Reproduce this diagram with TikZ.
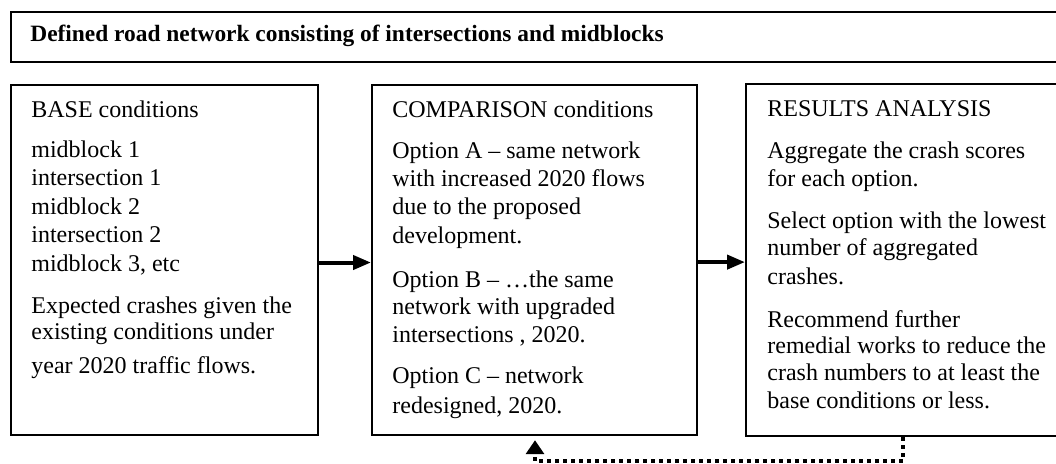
\documentclass[tikz,border=0pt]{standalone}
\usepackage{fontspec}
\setmainfont{Liberation Serif}
\usetikzlibrary{arrows.meta}
\begin{document}
\begin{tikzpicture}[x=0.5pt,y=-0.5pt,
  box/.style={draw, line width=1.1pt, inner sep=0pt, anchor=north west},
  txt/.style={anchor=base west, inner sep=0pt, font=\fontsize{12}{14}\selectfont},
  flow/.style={line width=2pt, -{Triangle[length=9pt,width=7pt]}},
  fb/.style={line width=1.7pt, dash pattern=on 2pt off 2pt, shorten >=2pt, -{Triangle[length=7pt,width=9pt]}}]
\useasboundingbox (0,0) rectangle (1056,463);
\clip (0,0) rectangle (1056,463);
% boxes
\node[box, minimum width=530pt, minimum height=25pt] (top) at (10,11) {};
\node[box, minimum width=153.5pt, minimum height=175pt] (b1) at (10,84) {};
\node[box, minimum width=162.5pt, minimum height=175pt] (b2) at (371,84) {};
\node[box, minimum width=162.5pt, minimum height=176pt] (b3) at (745,83) {};
% title
\node[txt, font=\fontsize{11.7}{14}\selectfont\bfseries] (title) at (30,41) {Defined road network consisting of intersections and midblocks};
% box 1 text
\foreach \y/\t [count=\i] in {117/{BASE conditions},157/{midblock 1},185.5/{intersection 1},214/{midblock 2},242.5/{intersection 2},271/{midblock 3, etc},313/{Expected crashes given the},339/{existing conditions under},373/{year 2020 traffic flows.}}
  \node[txt] (p\i) at (31,\y) {\t};
% box 2 text
\foreach \y/\t [count=\i] in {117/{COMPARISON conditions},158/{Option A – same network},186/{with increased 2020 flows},214/{due to the proposed},243/{development.},287/{Option B – …the same},314/{network with upgraded},342/{intersections , 2020.},383/{Option C – network},413/{redesigned, 2020.}}
  \node[txt] (q\i) at (392,\y) {\t};
% box 3 text
\foreach \y/\t [count=\i] in {116/{RESULTS ANALYSIS},158/{Aggregate the crash scores},186/{for each option.},228/{Select option with the lowest},255/{number of aggregated},284/{crashes.},327/{Recommend further},353/{remedial works to reduce the},380/{crash numbers to at least the},408/{base conditions or less.}}
  \node[txt] (r\i) at (767,\y) {\t};
% arrows
\draw[flow] ([yshift=-1.2pt]b1.east) -- ([yshift=-1.2pt]b2.west);
\draw[flow] ([yshift=-1pt]b2.east) -- ([yshift=-1pt]b3.west);
\coordinate (c1) at (903,461);
\coordinate (c2) at (535,461);
\draw[fb] (b3.south -| c1) -- (c1) -- (c2) -- (c2 |- b2.south);
\end{tikzpicture}
\end{document}
